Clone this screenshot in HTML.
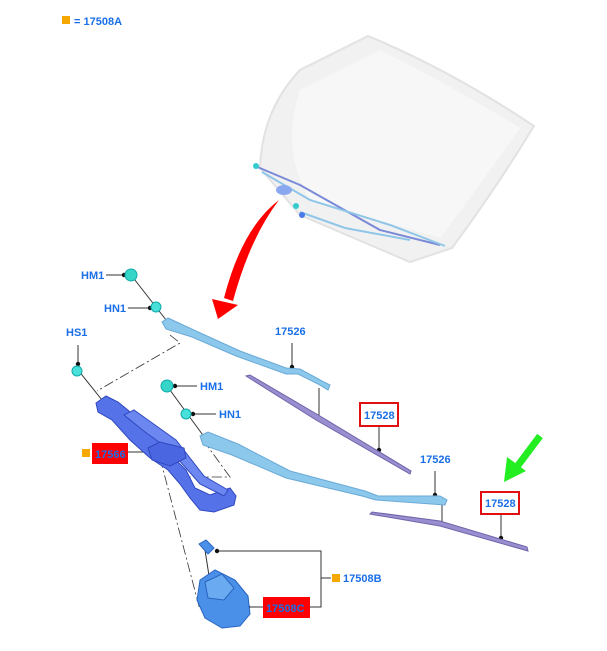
<!DOCTYPE html>
<html><head><meta charset="utf-8"><style>
html,body{margin:0;padding:0;background:#fff;}
svg{display:block;}
text{font-family:"Liberation Sans",sans-serif;font-weight:bold;font-size:11px;fill:#1a6fe8;}
</style></head><body>
<svg width="607" height="651" viewBox="0 0 607 651" xmlns="http://www.w3.org/2000/svg">
<rect x="62" y="16" width="8" height="8" fill="#f5a800"/>
<text x="74" y="25">= 17508A</text>

<path d="M368,36 Q450,70 534,126 Q495,190 452,248 L410,262 L300,215 L260,168 Q262,110 300,70 Z" fill="#f1f1f1" stroke="#e2e2e2" stroke-width="2"/>
<path d="M380,50 Q450,85 520,128 Q480,185 440,238 L310,200 Q280,150 300,90 Z" fill="#f7f7f7"/>
<path d="M255,166 L300,185 L380,230 L440,245" fill="none" stroke="#7a8ad8" stroke-width="2"/>
<path d="M262,172 L310,200 L390,225 L445,246" fill="none" stroke="#8fc6e8" stroke-width="2"/>
<path d="M300,212 L345,228 L410,240" fill="none" stroke="#8fc6e8" stroke-width="2"/>
<circle cx="256" cy="166" r="3" fill="#3cc"/>
<circle cx="296" cy="206" r="3" fill="#3cc"/>
<circle cx="302" cy="215" r="3" fill="#4a7ae8"/>
<ellipse cx="284" cy="190" rx="8" ry="5" fill="#8aa8f0"/>

<path d="M279,200 Q242,228 224,298 L233,301 Q250,238 279,200 Z" fill="#f00"/>
<polygon points="212,299 238,305 218,319" fill="#f00"/>

<line x1="540" y1="436" x2="516" y2="468" stroke="#22ee22" stroke-width="7"/>
<polygon points="504,482 507,457 526,471" fill="#22ee22"/>

<g fill="none" stroke="#333" stroke-width="0.8" stroke-dasharray="10,3,2,3">
<polyline points="170,335 180,343 97,391"/>
<polyline points="203,440 230,477 185,477"/>
<line x1="160" y1="458" x2="200" y2="610"/>
</g>

<g stroke="#333" stroke-width="1" fill="none">
<line x1="106" y1="275" x2="124" y2="275"/>
<line x1="131" y1="275" x2="170" y2="325"/>
<line x1="128" y1="308" x2="150" y2="308"/>
<line x1="78" y1="345" x2="78" y2="364"/>
<line x1="78" y1="370" x2="102" y2="400"/>
<line x1="175" y1="386" x2="197" y2="386"/>
<line x1="167" y1="386" x2="205" y2="438"/>
<line x1="193" y1="414" x2="216" y2="414"/>
<line x1="292" y1="343" x2="292" y2="367"/>
<line x1="319" y1="388" x2="319" y2="416"/>
<line x1="379" y1="426" x2="379" y2="450"/>
<line x1="435" y1="471" x2="435" y2="495"/>
<line x1="442" y1="505" x2="442" y2="525"/>
<line x1="501" y1="514" x2="501" y2="538"/>
<line x1="128" y1="452" x2="152" y2="452"/>
<polyline points="217,551 321,551 321,607 310,607"/>
<line x1="321" y1="578" x2="331" y2="578"/>
<line x1="248" y1="607" x2="263" y2="607"/>
<line x1="205" y1="550" x2="212" y2="595"/>
</g>
<g fill="#111">
<circle cx="124" cy="275" r="2.2"/><circle cx="150" cy="308" r="2.2"/>
<circle cx="78" cy="364" r="2.2"/><circle cx="175" cy="386" r="2.2"/>
<circle cx="193" cy="414" r="2.2"/><circle cx="292" cy="367" r="2.2"/>
<circle cx="379" cy="450" r="2.2"/><circle cx="435" cy="495" r="2.2"/>
<circle cx="501" cy="538" r="2.2"/><circle cx="152" cy="452" r="2.2"/>
<circle cx="217" cy="551" r="2.2"/><circle cx="248" cy="607" r="2.2"/>
</g>

<circle cx="131" cy="275" r="6" fill="#35d5c8" stroke="#1aa" stroke-width="1"/>
<circle cx="156" cy="307" r="5" fill="#48e0d8" stroke="#1aa"/>
<circle cx="77" cy="371" r="5" fill="#48e0d8" stroke="#1aa"/>
<circle cx="167" cy="386" r="6" fill="#35d5c8" stroke="#1aa"/>
<circle cx="186" cy="414" r="5" fill="#48e0d8" stroke="#1aa"/>

<path d="M162,322 L168,318 L196,331 L240,351 L286,368 L300,369 L322,381 L330,385 L328,390 L318,384 L298,374 L286,374 L236,356 L192,337 L166,329 Z" fill="#8cc8ec" stroke="#6aaad6" stroke-width="1"/>
<path d="M200,436 L208,432 L238,444 L290,471 L365,491 L378,496 L440,496 L447,500 L445,505 L376,500 L362,496 L286,478 L232,455 L203,445 Z" fill="#8cc8ec" stroke="#6aaad6" stroke-width="1"/>

<path d="M246,376 L250,375 L320,416 L411,471 L410,474 L316,420 Z" fill="#9a8ed0" stroke="#6e64a8" stroke-width="1"/>
<path d="M370,514 L372,512 L440,521 L527,547 L528,551 L440,526 Z" fill="#9a8ed0" stroke="#6e64a8" stroke-width="1"/>

<g fill="#5572e8" stroke="#3048c0" stroke-width="1">
<path d="M96,403 L106,396 L118,402 L140,420 L162,440 L176,460 L186,470 L195,488 L210,495 L230,488 L236,496 L234,505 L214,512 L200,510 L190,498 L180,484 L168,470 L150,458 L130,440 L112,420 L98,412 Z"/>
<path d="M124,415 L134,410 L148,420 L176,440 L204,476 L228,490 L224,496 L200,484 L170,450 L145,432 Z" fill="#6c88f0"/>
<path d="M148,448 L160,442 L184,448 L186,458 L170,466 L152,460 Z" fill="#4a66e0"/>
</g>

<g fill="#4a90e8" stroke="#2a66c0" stroke-width="1">
<path d="M199,544 L206,540 L214,548 L208,554 Z"/>
<path d="M200,580 L215,570 L235,580 L248,596 L250,614 L240,626 L222,628 L205,618 L197,600 Z"/>
<path d="M205,582 L222,574 L234,588 L224,600 L208,598 Z" fill="#6aaaf0"/>
</g>

<text x="81" y="279">HM1</text>
<text x="104" y="312">HN1</text>
<text x="66" y="336">HS1</text>
<text x="200" y="390">HM1</text>
<text x="219" y="418">HN1</text>
<text x="275" y="335">17526</text>
<text x="420" y="463">17526</text>

<rect x="360" y="403" width="38" height="23" fill="#fff" stroke="#e01010" stroke-width="2"/>
<text x="364" y="419">17528</text>
<rect x="481" y="492" width="38" height="22" fill="#fff" stroke="#e01010" stroke-width="2"/>
<text x="485" y="507">17528</text>

<rect x="82" y="449" width="8" height="8" fill="#f5a800"/>
<rect x="92" y="443" width="36" height="21" fill="#f00"/>
<text x="95" y="458">17566</text>

<rect x="263" y="597" width="47" height="21" fill="#f00"/>
<text x="266" y="612">17508C</text>

<rect x="332" y="574" width="8" height="8" fill="#f5a800"/>
<text x="343" y="582">17508B</text>
</svg>
</body></html>
